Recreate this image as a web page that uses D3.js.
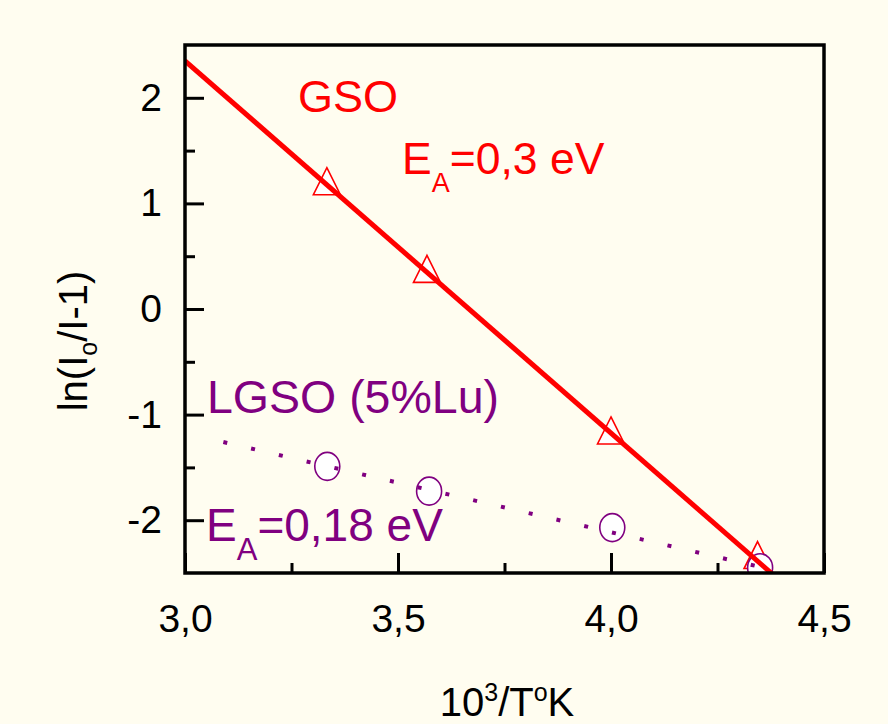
<!DOCTYPE html>
<html>
<head>
<meta charset="utf-8">
<script src="https://cdn.jsdelivr.net/npm/d3@7"></script>
<style>
  html, body { margin: 0; padding: 0; background: #FFFDF0; }
  svg { display: block; }
</style>
</head>
<body>
<div id="chart"></div>
<script>
// ---- data ----
const X_TICKS = [3.0, 3.5, 4.0, 4.5];
const X_MINOR = [3.25, 3.75, 4.25];
const Y_TICKS = [-2, -1, 0, 1, 2];
const Y_MINOR = [-1.5, -0.5, 0.5, 1.5];

// GSO (triangles) and its fit line
const GSO_X = [3.333, 3.568, 4.0, 4.344];
const GSO_Y = [1.21, 0.38, -1.15, -2.33];
const GSO_FIT_X = [3.0, 4.39];
const GSO_FIT_Y = [2.35, -2.55];

// LGSO 5% Lu (circles) and its dotted fit
const LGSO_X = [3.334, 3.573, 4.003, 4.35];
const LGSO_Y = [-1.49, -1.725, -2.07, -2.45];
const LGSO_FIT_X = [3.09, 4.39];
const LGSO_FIT_Y = [-1.26, -2.48];

const W = 888, H = 724;
const m = { l: 185, r: 888 - 824, t: 45, b: 724 - 573 };
const RED = '#FF0000', PURPLE = '#800080';
const FONT = 'Liberation Sans, Arial, sans-serif';

const svg = d3.select('#chart').append('svg')
  .attr('width', W).attr('height', H)
  .attr('viewBox', `0 0 ${W} ${H}`);

svg.append('rect').attr('width', W).attr('height', H).attr('fill', '#FFFDF0');

const x = d3.scaleLinear().domain([3.0, 4.5]).range([m.l, W - m.r]);
const y = d3.scaleLinear().domain([-2.5, 2.5]).range([H - m.b, m.t]);

svg.append('defs').append('clipPath').attr('id', 'plot-clip')
  .append('rect')
  .attr('x', m.l).attr('y', m.t)
  .attr('width', W - m.r - m.l).attr('height', H - m.b - m.t);

const plot = svg.append('g').attr('clip-path', 'url(#plot-clip)');

// ---- markers (drawn first, lines go over them) ----
const gso = GSO_X.map((v, i) => ({ x: v, y: GSO_Y[i] }));
const lgso = LGSO_X.map((v, i) => ({ x: v, y: LGSO_Y[i] }));

const triPath = 'M0,-13.5 L13.5,13.5 L-13.5,13.5 Z';
plot.selectAll('path.tri').data(gso).join('path')
  .attr('class', 'tri')
  .attr('d', triPath)
  .attr('transform', d => `translate(${x(d.x)},${y(d.y)})`)
  .attr('fill', '#FFFFFF')
  .attr('stroke', RED).attr('stroke-width', 1.6);

plot.selectAll('ellipse.circ').data(lgso).join('ellipse')
  .attr('class', 'circ')
  .attr('cx', d => x(d.x)).attr('cy', d => y(d.y))
  .attr('rx', 12.5).attr('ry', 14)
  .attr('fill', '#FFFFFF')
  .attr('stroke', PURPLE).attr('stroke-width', 1.6);

// ---- fit lines ----
const line = d3.line().x(d => x(d.x)).y(d => y(d.y));

plot.append('path')
  .datum(GSO_FIT_X.map((v, i) => ({ x: v, y: GSO_FIT_Y[i] })))
  .attr('d', line)
  .attr('fill', 'none')
  .attr('stroke', RED).attr('stroke-width', 5);

plot.append('path')
  .datum(LGSO_FIT_X.map((v, i) => ({ x: v, y: LGSO_FIT_Y[i] })))
  .attr('d', line)
  .attr('fill', 'none')
  .attr('stroke', PURPLE).attr('stroke-width', 4)
  .attr('stroke-dasharray', '4 24.5');

// ---- axes: ticks point inward ----
const styleAxis = g => {
  g.select('.domain').remove();
  g.selectAll('line').attr('stroke', '#000').attr('stroke-width', 3);
  g.selectAll('text').attr('font-family', FONT).attr('font-size', 39).attr('fill', '#000');
};

svg.append('g').attr('transform', `translate(0,${H - m.b})`)
  .call(d3.axisBottom(x).tickValues(X_TICKS).tickSize(-20).tickPadding(31)
    .tickFormat(d => d3.format('.1f')(d).replace('.', ',')))
  .call(styleAxis);
svg.append('g').attr('transform', `translate(0,${H - m.b})`)
  .call(d3.axisBottom(x).tickValues(X_MINOR).tickSize(-10).tickFormat(''))
  .call(styleAxis);

svg.append('g').attr('transform', `translate(${m.l},0)`)
  .call(d3.axisLeft(y).tickValues(Y_TICKS).tickSize(-19).tickPadding(23)
    .tickFormat(d => String(d)))
  .call(styleAxis);
svg.append('g').attr('transform', `translate(${m.l},0)`)
  .call(d3.axisLeft(y).tickValues(Y_MINOR).tickSize(-10).tickFormat(''))
  .call(styleAxis);

// frame
svg.append('rect')
  .attr('x', m.l).attr('y', m.t)
  .attr('width', W - m.r - m.l).attr('height', H - m.b - m.t)
  .attr('fill', 'none').attr('stroke', '#000').attr('stroke-width', 3.5);

// ---- axis titles ----
const xt = svg.append('text')
  .attr('x', 507).attr('y', 716)
  .attr('text-anchor', 'middle')
  .attr('font-family', FONT).attr('font-size', 40).attr('fill', '#000');
xt.append('tspan').text('10');
xt.append('tspan').attr('font-size', 25).attr('dy', -15).text('3');
xt.append('tspan').attr('dy', 15).text('/T');
xt.append('tspan').attr('font-size', 25).attr('dy', -15).text('o');
xt.append('tspan').attr('dy', 15).text('K');

const yt = svg.append('text')
  .attr('transform', 'translate(87,341) rotate(-90)')
  .attr('text-anchor', 'middle')
  .attr('font-family', FONT).attr('font-size', 40).attr('fill', '#000');
yt.append('tspan').text('ln(I');
yt.append('tspan').attr('font-size', 25).attr('dy', 10).text('o');
yt.append('tspan').attr('dy', -10).text('/I-1)');

// ---- annotations ----
svg.append('text')
  .attr('x', 298).attr('y', 112)
  .attr('font-family', FONT).attr('font-size', 45).attr('fill', RED)
  .text('GSO');

const ea1 = svg.append('text')
  .attr('x', 402).attr('y', 174)
  .attr('font-family', FONT).attr('font-size', 44.5).attr('fill', RED);
ea1.append('tspan').text('E');
ea1.append('tspan').attr('font-size', 27).attr('dy', 18).text('A');
ea1.append('tspan').attr('dy', -18).text('=0,3 eV');

svg.append('text')
  .attr('x', 207).attr('y', 413)
  .attr('font-family', FONT).attr('font-size', 46.5).attr('fill', PURPLE)
  .text('LGSO (5%Lu)');

const ea2 = svg.append('text')
  .attr('x', 206).attr('y', 541)
  .attr('font-family', FONT).attr('font-size', 46).attr('fill', PURPLE);
ea2.append('tspan').text('E');
ea2.append('tspan').attr('font-size', 31).attr('dy', 19).text('A');
ea2.append('tspan').attr('dy', -19).text('=0,18 eV');
</script>
</body>
</html>
